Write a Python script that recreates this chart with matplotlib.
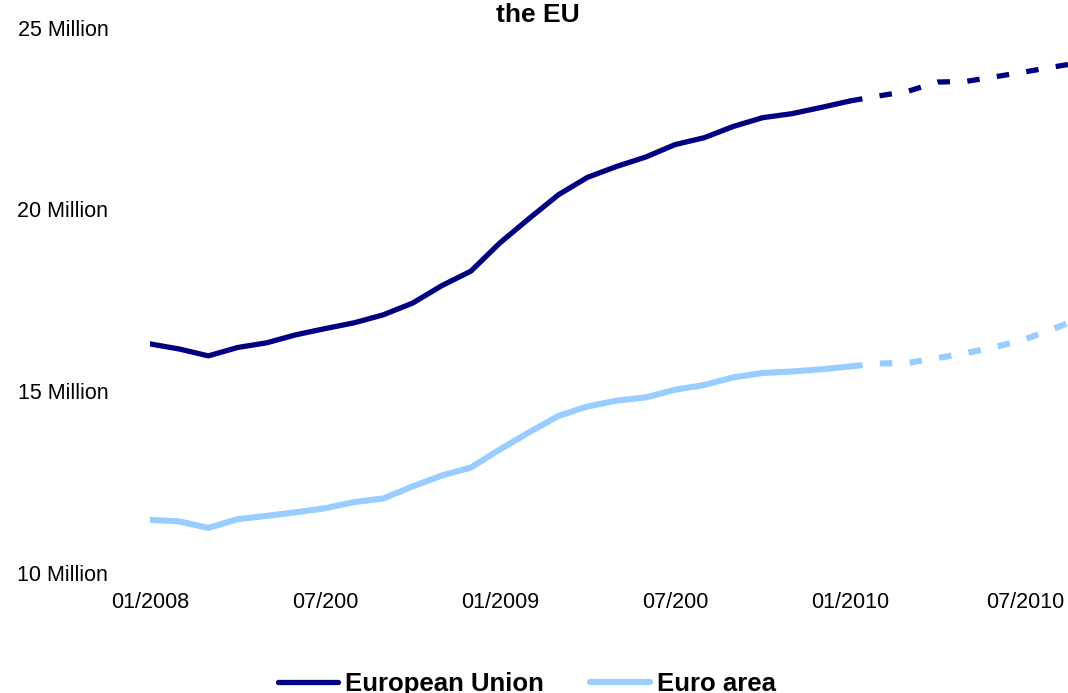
import matplotlib
matplotlib.use("Agg")
import matplotlib.pyplot as plt

plt.rcParams["font.family"] = ["Liberation Sans", "DejaVu Sans"]
plt.rcParams["lines.scale_dashes"] = False

# Monthly registered unemployment, millions (Jan 2008 .. Jan 2010)
eu_actual = [16.30, 16.16, 15.97, 16.20, 16.33, 16.55, 16.72, 16.88, 17.10,
             17.42, 17.90, 18.30, 19.08, 19.75, 20.40, 20.88, 21.18, 21.44,
             21.78, 21.97, 22.28, 22.52, 22.63, 22.80, 22.98]
ea_actual = [11.46, 11.42, 11.24, 11.48, 11.57, 11.67, 11.78, 11.95, 12.05,
             12.38, 12.68, 12.90, 13.40, 13.87, 14.32, 14.58, 14.74, 14.83,
             15.04, 15.17, 15.38, 15.50, 15.54, 15.60, 15.68]

# Projection, Jan 2010 .. Sep 2010
eu_forecast = [22.98, 23.12, 23.25, 23.50, 23.52, 23.65, 23.78, 23.92, 24.05]
ea_forecast = [15.68, 15.76, 15.78, 15.91, 16.05, 16.22, 16.43, 16.72, 17.05]

tick_months = [0, 6, 12, 18, 24, 30]
tick_labels = ["01/2008", "07/200", "01/2009", "07/200", "01/2010", "07/2010"]
y_ticks = [10, 15, 20, 25]
y_labels = ["10 Million", "15 Million", "20 Million", "25 Million"]

series_names = ["European Union", "Euro area"]
navy = "#000080"
light = "#99CCFF"

W, H = 1068, 693
fig = plt.figure(figsize=(W / 100, H / 100), dpi=100)
ax = fig.add_axes([150 / W, 1 - 573 / H, 1 - 150 / W, (573 - 27.5) / H])

x_act = list(range(len(eu_actual)))
start = len(eu_actual) - 1
x_fc = list(range(start, start + len(eu_forecast)))

ax.plot(x_act, eu_actual, color=navy, lw=3.8, solid_capstyle="round",
        solid_joinstyle="round", label=series_names[0])
ax.plot(x_act, ea_actual, color=light, lw=4.4, solid_capstyle="round",
        solid_joinstyle="round", label=series_names[1])
ax.plot(x_fc, eu_forecast, color=navy, lw=3.8, dash_capstyle="butt",
        dashes=(9, 12.5))
ax.plot(x_fc, ea_forecast, color=light, lw=4.4, dash_capstyle="butt",
        dashes=(9, 12.5))

ax.set_xlim(0, (W - 150) / 29.17)
ax.set_ylim(10, 25)
ax.set_xticks(tick_months)
ax.set_xticklabels(tick_labels)
ax.set_yticks(y_ticks)
ax.set_yticklabels(y_labels)
ax.tick_params(axis="both", length=0, labelsize=15.5, colors="black")
ax.tick_params(axis="y", pad=30)
ax.tick_params(axis="x", pad=14)
for s in ax.spines.values():
    s.set_visible(False)
ax.patch.set_visible(False)

fig.text(538 / W, 1 - 22 / H, "the EU", ha="center", va="baseline",
         fontsize=19, fontweight="bold")

handles, labels = ax.get_legend_handles_labels()
leg = fig.legend(handles, labels, loc="center", ncol=2,
                 bbox_to_anchor=(527 / W, 1 - 684 / H), frameon=False,
                 prop={"size": 18.5, "weight": "bold"},
                 handlelength=2.35, handletextpad=0.27, columnspacing=1.8,
                 borderaxespad=0, borderpad=0)

fig.savefig("out.png", dpi=100)
